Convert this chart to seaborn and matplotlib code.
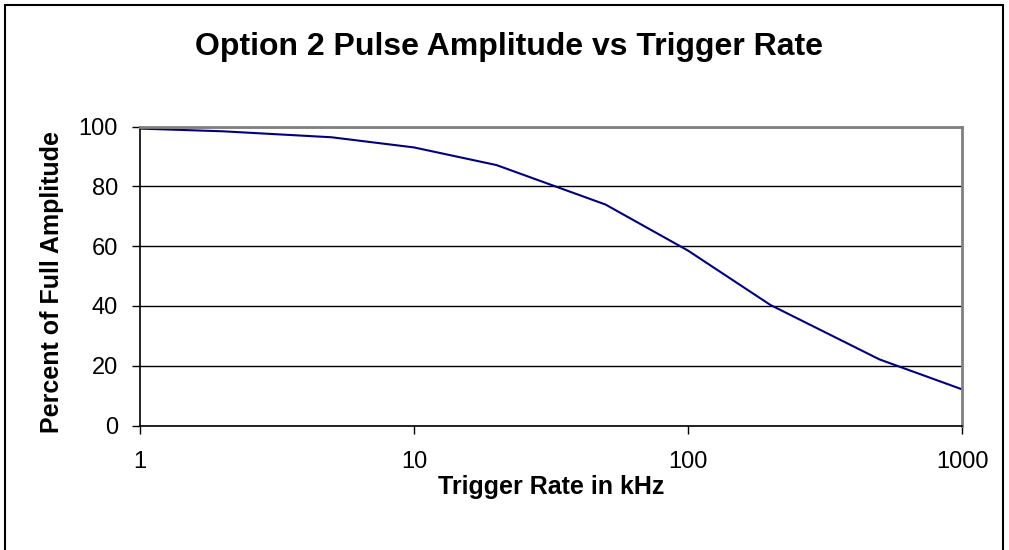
# Option 2 pulse amplitude vs trigger rate (log x)

import pandas as pd
import numpy as np
import matplotlib
matplotlib.use("Agg")
import matplotlib.pyplot as plt
import seaborn as sns
from matplotlib.patches import Rectangle

# ===============================
# Data
# ===============================

trigger_rate_khz = [1, 2, 5, 10, 20, 50, 100, 200, 500, 1000]
percent_amplitude = [99.3, 98.4, 96.4, 93.0, 87.1, 73.9, 58.5, 40.3, 22.1, 12.1]

x_ticks = [1, 10, 100, 1000]
x_tick_labels = ["1", "10", "100", "1000"]
y_ticks = [0, 20, 40, 60, 80, 100]

df = pd.DataFrame({
    "rate": trigger_rate_khz,
    "amp": percent_amplitude
})

# ===============================
# Style
# ===============================

sns.set_theme(style="white")
plt.rcParams["font.family"] = ["Liberation Sans", "DejaVu Sans"]
plt.rcParams["text.color"] = "#000000"
plt.rcParams["axes.labelcolor"] = "#000000"
plt.rcParams["xtick.color"] = "#000000"
plt.rcParams["ytick.color"] = "#000000"

W, H = 1009, 550
fig = plt.figure(figsize=(W / 100, H / 100), dpi=100)
ax = fig.add_axes([140 / W, 1 - 425.5 / H, (962 - 140) / W, (425.5 - 126.5) / H])

sns.lineplot(
    data=df,
    x="rate",
    y="amp",
    color="#000080",
    linewidth=1.5,
    ax=ax
)

ax.set_xscale("log")
ax.set_xlim(1, 1000)
ax.set_ylim(0, 100)

ax.set_xticks(x_ticks)
ax.set_xticklabels(x_tick_labels)
ax.xaxis.set_minor_locator(matplotlib.ticker.NullLocator())
ax.set_yticks(y_ticks)

ax.yaxis.grid(True, color="#000000", linewidth=1.0)
ax.xaxis.grid(False)

ax.tick_params(axis="both", which="major", direction="out", length=6,
               width=1, color="#000000", labelsize=17,
               bottom=True, left=True, labelcolor="#000000")
ax.tick_params(axis="y", pad=10)
ax.tick_params(axis="x", pad=12)

for side in ["left", "bottom"]:
    ax.spines[side].set_color("#000000")
    ax.spines[side].set_linewidth(1.2)
for side in ["top", "right"]:
    ax.spines[side].set_color("#808080")
    ax.spines[side].set_linewidth(2.0)

ax.set_xlabel("Trigger Rate in kHz", fontsize=18, fontweight="bold")
ax.set_ylabel("Percent of Full Amplitude", fontsize=18, fontweight="bold")
ax.xaxis.label.set_va("center")
ax.yaxis.label.set_va("center")
ax.xaxis.set_label_coords(0.5, (425.5 - 487) / (425.5 - 126.5))
ax.yaxis.set_label_coords((52 - 140) / (962 - 140), 0.48)

fig.text(509 / W, 1 - 47 / H, "Option 2 Pulse Amplitude vs Trigger Rate",
         ha="center", va="center", fontsize=23, fontweight="bold")

# outer chart frame
fig.patches.append(Rectangle((5 / W, -0.01), (1003 - 5) / W, 1 - 5 / H + 0.01,
                             transform=fig.transFigure, fill=False,
                             edgecolor="#000000", linewidth=1.5))

plt.savefig("out.png", dpi=100)
